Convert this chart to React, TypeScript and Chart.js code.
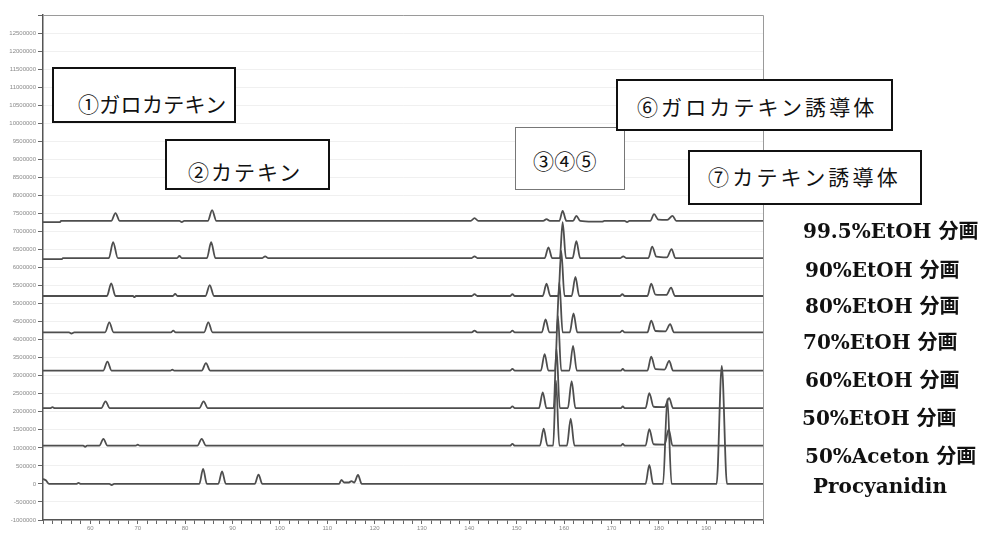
import { useEffect, useRef } from 'react';
import { Chart, registerables } from 'chart.js';

Chart.register(...registerables);

// Retention time (x) vs. detector response (y, in units of 1,000,000)
const etoh995: [number, number][] = [
  [50, 7.26], [53.6, 7.26], [53.8, 7.29], [64.4, 7.29], [65.3, 7.51], [66.2, 7.29],
  [78.8, 7.29], [79.3, 7.26], [79.8, 7.29], [84.8, 7.29], [85.7, 7.59], [86.6, 7.29],
  [140.3, 7.29], [141.1, 7.37], [141.9, 7.29], [155.6, 7.29], [156.3, 7.34], [157.0, 7.29],
  [159.0, 7.29], [159.7, 7.57], [160.5, 7.29], [161.9, 7.29], [162.6, 7.43], [163.4, 7.29],
  [166.0, 7.27], [168.0, 7.27], [168.5, 7.29], [172.8, 7.29], [173.3, 7.26], [173.8, 7.29],
  [178.2, 7.29], [179.0, 7.48], [179.9, 7.33], [181.8, 7.32], [182.9, 7.43], [183.7, 7.29],
  [202, 7.29],
];
const etoh90: [number, number][] = [
  [50, 6.23], [54.0, 6.23], [54.2, 6.26], [63.9, 6.26], [64.8, 6.70], [65.8, 6.26],
  [78.3, 6.26], [78.8, 6.32], [79.3, 6.26], [84.6, 6.26], [85.5, 6.70], [86.4, 6.26],
  [96.3, 6.26], [96.9, 6.31], [97.5, 6.26], [140.5, 6.26], [141.1, 6.31], [141.7, 6.26],
  [155.9, 6.26], [156.7, 6.56], [157.5, 6.26], [159.1, 6.26], [159.7, 7.26], [160.4, 6.26],
  [161.8, 6.26], [162.6, 6.73], [163.4, 6.26], [171.9, 6.26], [172.5, 6.31], [173.1, 6.26],
  [177.8, 6.26], [178.6, 6.58], [179.5, 6.30], [181.7, 6.28], [182.7, 6.51], [183.5, 6.26],
  [202, 6.26],
];
const etoh80: [number, number][] = [
  [50, 5.21], [63.5, 5.21], [64.4, 5.56], [65.3, 5.21], [69.0, 5.21], [69.3, 5.18], [69.6, 5.21],
  [77.4, 5.21], [77.9, 5.27], [78.4, 5.21], [84.3, 5.21], [85.2, 5.51], [86.1, 5.21],
  [140.5, 5.21], [141.1, 5.26], [141.7, 5.21], [148.6, 5.21], [149.1, 5.26], [149.6, 5.21],
  [155.5, 5.21], [156.3, 5.55], [157.1, 5.21], [158.8, 5.21], [159.4, 6.46], [160.1, 5.21],
  [161.6, 5.21], [162.4, 5.74], [163.2, 5.21], [171.8, 5.21], [172.3, 5.26], [172.8, 5.21],
  [177.6, 5.21], [178.4, 5.55], [179.3, 5.25], [181.6, 5.24], [182.6, 5.44], [183.4, 5.21],
  [202, 5.21],
];
const etoh70: [number, number][] = [
  [50, 4.20], [55.5, 4.20], [56.0, 4.17], [56.6, 4.20], [63.1, 4.20], [64.0, 4.48], [64.9, 4.20],
  [77.0, 4.20], [77.5, 4.25], [78.0, 4.20], [84.0, 4.20], [84.9, 4.48], [85.8, 4.20],
  [140.5, 4.20], [141.1, 4.25], [141.7, 4.20], [148.6, 4.20], [149.1, 4.25], [149.6, 4.20],
  [155.3, 4.20], [156.1, 4.56], [156.9, 4.20], [158.4, 4.20], [159.0, 5.59], [159.7, 4.20],
  [161.2, 4.20], [162.0, 4.73], [162.8, 4.20], [171.8, 4.20], [172.3, 4.25], [172.8, 4.20],
  [177.6, 4.20], [178.4, 4.53], [179.3, 4.24], [181.4, 4.23], [182.4, 4.43], [183.2, 4.20],
  [202, 4.20],
];
const etoh60: [number, number][] = [
  [50, 3.14], [62.7, 3.14], [63.6, 3.39], [64.5, 3.14], [76.9, 3.14], [77.3, 3.17], [77.7, 3.14],
  [83.5, 3.14], [84.4, 3.35], [85.3, 3.14], [148.6, 3.14], [149.1, 3.19], [149.6, 3.14],
  [155.1, 3.14], [155.9, 3.60], [156.7, 3.14], [158.1, 3.14], [158.7, 4.66], [159.4, 3.14],
  [161.1, 3.14], [161.9, 3.83], [162.7, 3.14], [172.0, 3.14], [172.4, 3.19], [172.8, 3.14],
  [177.6, 3.14], [178.4, 3.53], [179.3, 3.18], [181.2, 3.17], [182.2, 3.41], [183.0, 3.14],
  [202, 3.14],
];
const etoh50: [number, number][] = [
  [50, 2.10], [51.5, 2.10], [52.0, 2.13], [52.5, 2.10], [62.3, 2.10], [63.2, 2.29], [64.1, 2.10],
  [83.0, 2.10], [83.9, 2.29], [84.8, 2.10], [148.6, 2.10], [149.1, 2.15], [149.6, 2.10],
  [154.7, 2.10], [155.5, 2.54], [156.3, 2.10], [157.8, 2.10], [158.4, 3.76], [159.1, 2.10],
  [160.8, 2.10], [161.6, 2.85], [162.4, 2.10], [172.0, 2.10], [172.4, 2.15], [172.8, 2.10],
  [177.2, 2.10], [178.0, 2.52], [178.9, 2.14], [181.2, 2.13], [182.2, 2.38], [183.0, 2.10],
  [202, 2.10],
];
const aceton50: [number, number][] = [
  [50, 1.06], [58.5, 1.06], [58.9, 1.03], [59.3, 1.06], [61.9, 1.06], [62.75, 1.25], [63.6, 1.06],
  [69.6, 1.06], [70.0, 1.09], [70.4, 1.06], [82.6, 1.06], [83.5, 1.25], [84.4, 1.06],
  [148.6, 1.06], [149.1, 1.11], [149.6, 1.06], [154.9, 1.06], [155.7, 1.53], [156.5, 1.06],
  [157.7, 1.06], [158.3, 2.86], [159.0, 1.06], [160.6, 1.06], [161.4, 1.81], [162.2, 1.06],
  [172.0, 1.06], [172.4, 1.11], [172.8, 1.06], [177.2, 1.06], [178.0, 1.52], [178.9, 1.10],
  [181.2, 1.09], [182.1, 1.51], [182.9, 1.06], [202, 1.06],
];
const procyanidin: [number, number][] = [
  [50, 0.14], [50.6, 0.10], [51.3, 0.0], [57.0, 0.0], [57.5, 0.03], [58.0, 0.0],
  [64.0, 0.0], [64.5, -0.03], [65.0, 0.0], [83.0, 0.0], [83.8, 0.42], [84.6, 0.0],
  [87.0, 0.0], [87.8, 0.35], [88.6, 0.0], [94.7, 0.0], [95.5, 0.26], [96.3, 0.0],
  [112.5, 0.0], [113.0, 0.11], [113.6, 0.04], [114.6, 0.04], [115.1, 0.08], [115.7, 0.04],
  [116.5, 0.25], [117.3, 0.0], [177.2, 0.0], [178.0, 0.53], [178.8, 0.0], [180.9, 0.0],
  [181.8, 2.36], [182.7, 0.0], [192.2, 0.0], [193.3, 3.27], [194.4, 0.0], [202, 0.0],
];

const traceLabels = [
  '99.5%EtOH 分画', '90%EtOH 分画', '80%EtOH 分画', '70%EtOH 分画',
  '60%EtOH 分画', '50%EtOH 分画', '50%Aceton 分画', 'Procyanidin',
];
const peakNames = ['①ガロカテキン', '②カテキン', '③④⑤', '⑥ガロカテキン誘導体', '⑦カテキン誘導体'];

const xMin = 50;
const xMax = 202;
const yMin = -1;
const yMax = 13;

// layout (styles) – kept apart from the data
const labelPos = [
  { left: 803, cy: 231 }, { left: 805, cy: 270 }, { left: 805, cy: 306 }, { left: 803, cy: 342 },
  { left: 805, cy: 380 }, { left: 802, cy: 418 }, { left: 805, cy: 456 }, { left: 813, cy: 486 },
];
const boxPos = [
  { l: 52, t: 67, r: 236, b: 123, tx: 78, cy: 103, ls: 0.3, bw: 2, bc: '#111' },
  { l: 165, t: 139, r: 330, b: 190, tx: 188, cy: 171, ls: 2, bw: 2, bc: '#111' },
  { l: 515, t: 127, r: 625, b: 190, tx: 533, cy: 160, ls: 0.3, bw: 1, bc: '#777' },
  { l: 616, t: 79, r: 893, b: 131, tx: 637, cy: 106, ls: 3.1, bw: 2, bc: '#111' },
  { l: 688, t: 150, r: 922, b: 205, tx: 708, cy: 176, ls: 3.2, bw: 2, bc: '#111' },
];

const framePlugin = {
  id: 'frame',
  afterDraw(chart: any) {
    const { ctx, chartArea } = chart;
    const { left, top, right, bottom } = chartArea;
    ctx.save();
    ctx.strokeStyle = '#9a9a9a';
    ctx.lineWidth = 1;
    ctx.beginPath();
    ctx.moveTo(left, top + 0.5);
    ctx.lineTo(right + 0.5, top + 0.5);
    ctx.lineTo(right + 0.5, bottom);
    ctx.stroke();
    ctx.restore();
  },
};

export default function App() {
  const ref = useRef<HTMLCanvasElement>(null);

  useEffect(() => {
    const series = [etoh995, etoh90, etoh80, etoh70, etoh60, etoh50, aceton50, procyanidin];
    const chart = new Chart(ref.current as HTMLCanvasElement, {
      type: 'line',
      data: {
        datasets: series.map((s, i) => ({
          label: traceLabels[i],
          data: s.map(([x, y]) => ({ x, y })),
          borderColor: '#4e4e4e',
          borderWidth: 1.8,
          pointRadius: 0,
          cubicInterpolationMode: 'monotone',
          fill: false,
        })),
      },
      options: {
        animation: false,
        responsive: false,
        devicePixelRatio: 1,
        layout: { padding: { left: 0, top: 15, right: 225, bottom: 0 } },
        plugins: { legend: { display: false }, tooltip: { enabled: false } },
        scales: {
          x: {
            type: 'linear',
            min: xMin,
            max: xMax,
            afterFit: (s: any) => { s.height = 13; },
            ticks: {
              stepSize: 2,
              autoSkip: false,
              maxRotation: 0,
              padding: 1,
              color: '#8a8a8a',
              font: { size: 6 },
              callback: (v: any) => (Number(v) % 10 === 0 && v > xMin && v < 200 ? String(v) : ''),
            },
            grid: { drawOnChartArea: false, tickLength: 4, tickColor: '#666' },
            border: { color: '#555', width: 1.5 },
          },
          y: {
            type: 'linear',
            min: yMin,
            max: yMax,
            afterFit: (s: any) => { s.width = 43; },
            ticks: {
              stepSize: 0.5,
              autoSkip: false,
              padding: 2,
              color: '#8a8a8a',
              font: { size: 6 },
              callback: (v: any) => (Number(v) >= yMax ? '' : String(Math.round(Number(v) * 1000000))),
            },
            grid: { color: 'rgba(0,0,0,0.06)', tickLength: 5, tickColor: '#666' },
            border: { color: '#555', width: 1.5 },
          },
        },
      },
      plugins: [framePlugin],
    } as any);
    return () => chart.destroy();
  }, []);

  const boxFont = '"Noto Sans CJK JP", "DejaVu Serif", serif';
  const labelFont = '"DejaVu Serif", "Noto Sans CJK JP", serif';

  return (
    <div style={{ position: 'absolute', left: 0, top: 0, width: 988, height: 533, background: '#fff', overflow: 'hidden' }}>
      <canvas ref={ref} width={988} height={533} style={{ position: 'absolute', left: 0, top: 0, width: 988, height: 533 }} />
      {boxPos.map((b, i) => (
        <div key={'b' + i}>
          <div
            style={{
              position: 'absolute', left: b.l, top: b.t, width: b.r - b.l, height: b.b - b.t,
              border: `${b.bw}px solid ${b.bc}`, background: '#fff', boxSizing: 'border-box',
            }}
          />
          <div
            style={{
              position: 'absolute', left: b.tx, top: b.cy - 14, height: 28, lineHeight: '28px',
              fontFamily: boxFont, fontSize: 21, letterSpacing: b.ls, color: '#111', whiteSpace: 'nowrap',
            }}
          >
            {peakNames[i]}
          </div>
        </div>
      ))}
      {traceLabels.map((t, i) => (
        <div
          key={'l' + i}
          style={{
            position: 'absolute', left: labelPos[i].left, top: labelPos[i].cy - 13, height: 26, lineHeight: '26px',
            fontFamily: labelFont, fontWeight: 'bold', fontSize: 20, color: '#111', whiteSpace: 'nowrap',
          }}
        >
          {t}
        </div>
      ))}
    </div>
  );
}
